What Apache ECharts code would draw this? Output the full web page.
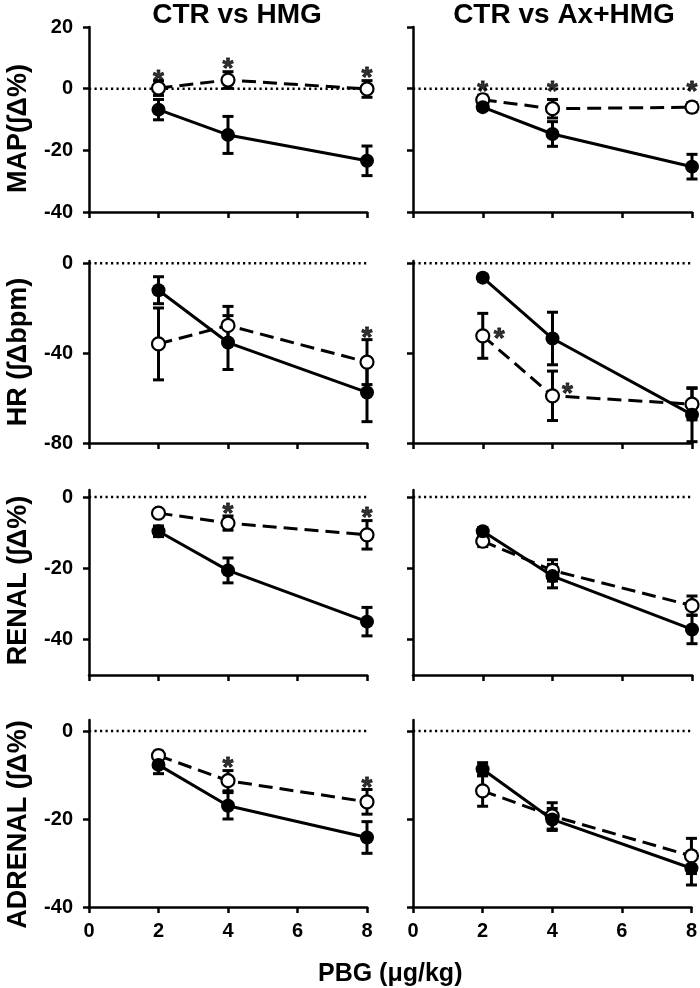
<!DOCTYPE html>
<html><head><meta charset="utf-8">
<script src="https://cdn.jsdelivr.net/npm/echarts@6/dist/echarts.min.js"></script>
<style>html,body{margin:0;padding:0;background:#fff}#c{width:700px;height:988px}</style>
</head><body><div id="c"></div><script>
// ---------- data ----------
const doses = [2, 4, 8];
const xTicks = [0, 2, 4, 6, 8];
const colTitles = ['CTR vs HMG', 'CTR vs Ax+HMG'];
const rowNames = ['MAP(∫Δ%)', 'HR (∫Δbpm)', 'RENAL (∫Δ%)', 'ADRENAL (∫Δ%)'];
const xAxisTitle = 'PBG (μg/kg)';
const yTicksMap = [-40, -20, 0, 20];
const yTicksHr = [-80, -40, 0];
const yTicksRenal = [-40, -20, 0];
const yTicksAdrenal = [-40, -20, 0];
const yMinVals = [-40, -80, -50, -40];
const yMaxVals = [20, 1, 2, 2.5];

// CTR (filled, solid) and treatment (open, dashed): mean and SEM
const mapL_ctr = [-6.8, -15, -23.4],   mapL_ctrErr = [3.3, 6, 4.8];
const mapL_trt = [0.2, 2.8, -0.1],     mapL_trtErr = [2.4, 2.7, 2.7];
const mapR_ctr = [-6, -14.7, -25.3],   mapR_ctrErr = [1, 4, 4];
const mapR_trt = [-3.6, -6.5, -6],     mapR_trtErr = [1.5, 3, 1.5];

const hrL_ctr = [-12, -35.3, -57.5],   hrL_ctrErr = [6, 12, 13];
const hrL_trt = [-35.9, -27.7, -44],   hrL_trtErr = [16, 8.5, 10];
const hrR_ctr = [-6.4, -33.5, -67.4],  hrR_ctrErr = [1.5, 11.7, 12];
const hrR_trt = [-32.3, -59, -62.7],   hrR_trtErr = [10, 11, 7];

const renL_ctr = [-9.6, -20.6, -35],   renL_ctrErr = [1.5, 3.5, 4];
const renL_trt = [-4.5, -7.3, -10.6],  renL_trtErr = [1, 2, 4];
const renR_ctr = [-9.6, -22.2, -37.2], renR_ctrErr = [1, 3.3, 4];
const renR_trt = [-12.4, -20.6, -30.5],renR_trtErr = [1.5, 3, 2.7];

const adrL_ctr = [-7.7, -17, -24.2],   adrL_ctrErr = [2, 3, 3.6];
const adrL_trt = [-5.6, -11.3, -16.1], adrL_trtErr = [1, 2.3, 2.8];
const adrR_ctr = [-8.7, -20.1, -31.2], adrR_ctrErr = [1.5, 2.5, 3.8];
const adrR_trt = [-13.6, -19.3, -28.4],adrR_trtErr = [3.5, 3, 4];

// significance asterisks [x, y]
const sig_mapL = [[2, 4.5], [4, 8.4], [8, 5.5]];
const sig_mapR = [[2, 1], [4, 1], [8, 1]];
const sig_hrL = [[8, -30.5]];
const sig_hrR = [[2.47, -31], [4.43, -55.4]];
const sig_renL = [[4, -3], [8, -4.1]];
const sig_renR = [];
const sig_adrL = [[4, -7], [8, -11.6]];
const sig_adrR = [];

// ---------- assembly ----------
const rowTicks = [yTicksMap, yTicksHr, yTicksRenal, yTicksAdrenal];
const panels = [
  [mapL_ctr, mapL_ctrErr, mapL_trt, mapL_trtErr, sig_mapL],
  [mapR_ctr, mapR_ctrErr, mapR_trt, mapR_trtErr, sig_mapR],
  [hrL_ctr, hrL_ctrErr, hrL_trt, hrL_trtErr, sig_hrL],
  [hrR_ctr, hrR_ctrErr, hrR_trt, hrR_trtErr, sig_hrR],
  [renL_ctr, renL_ctrErr, renL_trt, renL_trtErr, sig_renL],
  [renR_ctr, renR_ctrErr, renR_trt, renR_trtErr, sig_renR],
  [adrL_ctr, adrL_ctrErr, adrL_trt, adrL_trtErr, sig_adrL],
  [adrR_ctr, adrR_ctrErr, adrR_trt, adrR_trtErr, sig_adrR]
];

const FONT = '"Liberation Sans", Arial, sans-serif';
const colLeft = [89, 413], colWidth = [278, 279];
const rowTop = [27, 261, 490, 720], rowHeight = [185, 182, 185, 187];
const namePad = [[0, 18, 0, 0], [0, 0, 0, 0], [0, 0, 0, 4], [0, 22, 0, 0]];

function errRender(params, api) {
  const x = api.value(0), m = api.value(1), e = api.value(2);
  const t = api.coord([x, m + e]), b = api.coord([x, m - e]);
  const w = 5.5;
  const style = { stroke: '#000', lineWidth: 3, fill: null };
  return { type: 'group', children: [
    { type: 'line', shape: { x1: t[0], y1: t[1], x2: b[0], y2: b[1] }, style },
    { type: 'line', shape: { x1: t[0] - w, y1: t[1], x2: t[0] + w, y2: t[1] }, style },
    { type: 'line', shape: { x1: b[0] - w, y1: b[1], x2: b[0] + w, y2: b[1] }, style }
  ]};
}

const grid = [], xAxis = [], yAxis = [], series = [];
panels.forEach((p, idx) => {
  const row = Math.floor(idx / 2), col = idx % 2;
  grid.push({ left: colLeft[col], width: colWidth[col], top: rowTop[row], height: rowHeight[row] });
  xAxis.push({
    gridIndex: idx, type: 'value', min: 0, max: 8, interval: 2,
    axisLine: { onZero: false, lineStyle: { color: '#000', width: 2.5 } },
    axisTick: { show: true, length: 6, lineStyle: { color: '#000', width: 2.5 } },
    axisLabel: { show: row === 3, color: '#000', fontSize: 20, fontWeight: 'bold', fontFamily: FONT, margin: 14 },
    splitLine: { show: false }
  });
  yAxis.push({
    gridIndex: idx, type: 'value', min: yMinVals[row], max: yMaxVals[row],
    name: col === 0 ? rowNames[row] : '', nameLocation: 'middle', nameGap: 57,
    nameTextStyle: { color: '#000', fontSize: 27, fontWeight: 'bold', fontFamily: FONT, padding: namePad[row] },
    axisLine: { show: true, onZero: false, lineStyle: { color: '#000', width: 2.5 } },
    axisTick: { show: true, length: 6, customValues: rowTicks[row], lineStyle: { color: '#000', width: 2.5 } },
    axisLabel: { show: col === 0, customValues: rowTicks[row], color: '#000', fontSize: 20, fontWeight: 'bold', fontFamily: FONT, margin: 16 },
    splitLine: { show: false }
  });
  const [ctr, ctrErr, trt, trtErr, sig] = p;
  // zero reference line
  series.push({ type: 'line', xAxisIndex: idx, yAxisIndex: idx, data: [[0, 0], [8, 0]], symbol: 'none',
    lineStyle: { color: '#000', width: 2.5, type: [2.2, 3.3], cap: 'butt' }, z: 1, silent: true });
  // error bars
  series.push({ type: 'custom', xAxisIndex: idx, yAxisIndex: idx, renderItem: errRender, z: 2,
    data: doses.map((d, i) => [d, trt[i], trtErr[i]]) });
  series.push({ type: 'custom', xAxisIndex: idx, yAxisIndex: idx, renderItem: errRender, z: 2,
    data: doses.map((d, i) => [d, ctr[i], ctrErr[i]]) });
  // treatment (open, dashed)
  series.push({ type: 'line', xAxisIndex: idx, yAxisIndex: idx, data: doses.map((d, i) => [d, trt[i]]),
    symbol: 'circle', symbolSize: 13, showAllSymbol: true, z: 3,
    lineStyle: { color: '#000', width: 3, type: [14, 7] },
    itemStyle: { color: '#fff', borderColor: '#000', borderWidth: 2.2 } });
  // control (filled, solid)
  series.push({ type: 'line', xAxisIndex: idx, yAxisIndex: idx, data: doses.map((d, i) => [d, ctr[i]]),
    symbol: 'circle', symbolSize: 14, z: 4,
    lineStyle: { color: '#000', width: 3 },
    itemStyle: { color: '#000', borderColor: '#000', borderWidth: 0 } });
  // asterisks
  series.push({ type: 'scatter', xAxisIndex: idx, yAxisIndex: idx, data: sig, symbolSize: 0, z: 5, silent: true,
    label: { show: true, formatter: '*', position: 'inside', offset: [0, 6.5], color: '#000',
      textBorderColor: '#000', textBorderWidth: 0.8,
      fontSize: 28, fontWeight: 'bold', fontFamily: FONT } });
});

const option = {
  animation: false,
  backgroundColor: '#fff',
  title: [
    { text: colTitles[0], left: 232, top: -4, textAlign: 'center',
      textStyle: { color: '#000', fontSize: 28, fontWeight: 'bold', fontFamily: FONT } },
    { text: colTitles[1], left: 559, top: -4, textAlign: 'center',
      textStyle: { color: '#000', fontSize: 28, fontWeight: 'bold', fontFamily: FONT } }
  ],
  grid, xAxis, yAxis, series,
  graphic: [{ type: 'text', left: 318, top: 962,
    style: { text: xAxisTitle, fill: '#000', font: 'bold 25px ' + FONT } }]
};
const chart = echarts.init(document.getElementById('c'), null, { renderer: 'canvas' });
chart.setOption(option);
</script></body></html>
